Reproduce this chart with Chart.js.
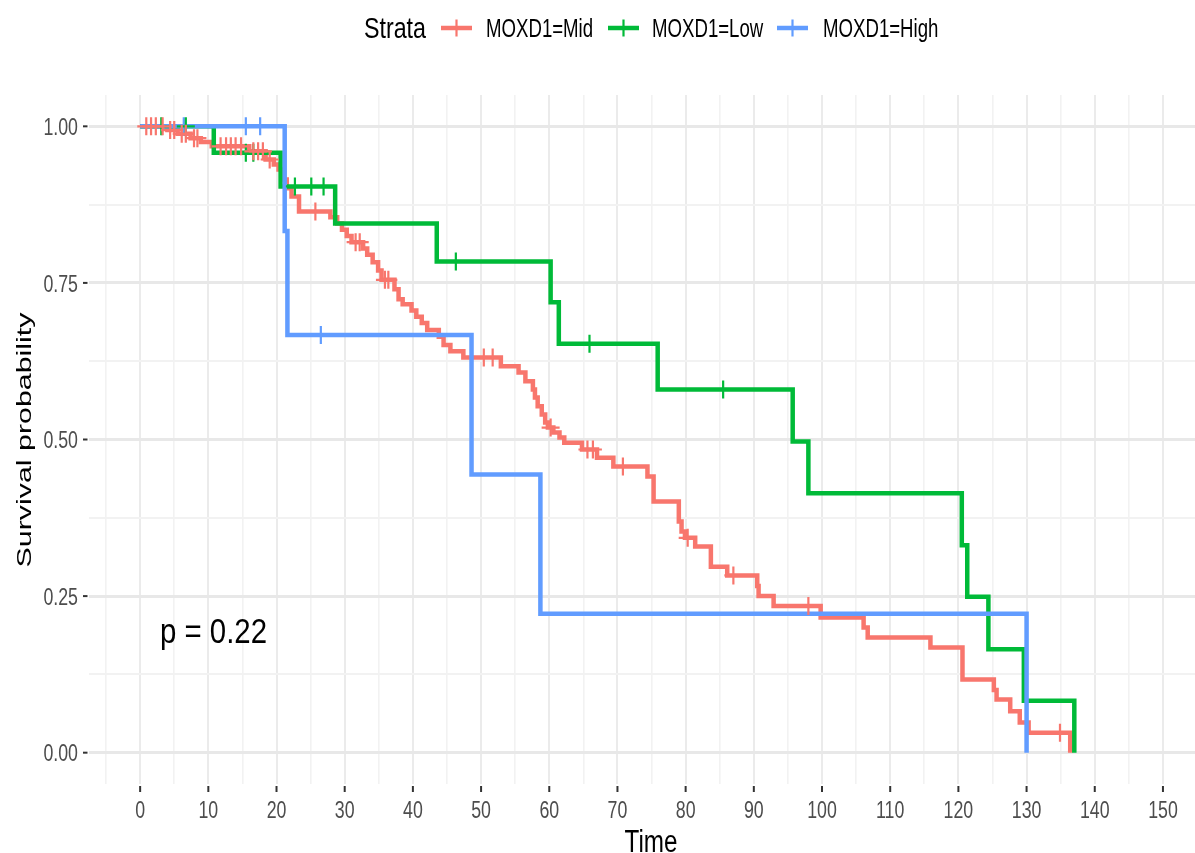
<!DOCTYPE html>
<html>
<head>
<meta charset="utf-8">
<script src="https://cdn.jsdelivr.net/npm/chart.js@4.4.1/dist/chart.umd.min.js"></script>
<style>
  html, body { margin: 0; padding: 0; background: #ffffff; }
  #wrap { width: 1195px; height: 853px; position: relative; }
</style>
</head>
<body>
<div id="wrap"><canvas id="kmChart"></canvas></div>
<script>
// Kaplan-Meier curves
const strata = ['MOXD1=Mid', 'MOXD1=Low', 'MOXD1=High'];
const strataColors = ['#F8766D', '#00BA38', '#619CFF'];

const midTime = [0, 4.0, 5.5, 7.4, 8.9, 10.5, 16.0, 18.4, 19.6, 20.3, 20.9, 21.5, 22.2, 23.3,
    27.9, 28.9, 29.6, 30.3, 31.0, 32.7, 33.3, 34.1, 34.9, 35.4, 37.3, 37.9, 38.5, 39.8, 40.5,
    41.3, 42.1, 43.8, 44.5, 45.5, 47.4, 52.9, 55.5, 56.5, 57.6, 57.9, 58.3, 58.9, 59.4, 59.8,
    60.6, 61.5, 62.2, 64.8, 67.0, 69.4, 74.4, 75.3, 79.0, 79.4, 79.9, 81.4, 83.7, 86.1, 90.5,
    90.7, 92.9, 99.8, 106.1, 106.7, 115.9, 120.6, 125.2, 125.6, 127.6, 129.0, 130.3, 136.4];
const midSurv = [1, 0.994, 0.988, 0.981, 0.975, 0.968, 0.960, 0.947, 0.939, 0.931, 0.915, 0.901, 0.888, 0.864,
    0.855, 0.845, 0.835, 0.825, 0.815, 0.805, 0.795, 0.783, 0.770, 0.755, 0.740, 0.724, 0.716, 0.706, 0.696,
    0.686, 0.675, 0.664, 0.651, 0.641, 0.631, 0.617, 0.607, 0.593, 0.580, 0.567, 0.553, 0.540, 0.527, 0.519,
    0.511, 0.503, 0.495, 0.484, 0.471, 0.457, 0.441, 0.401, 0.369, 0.353, 0.343, 0.329, 0.297, 0.283, 0.266,
    0.250, 0.234, 0.216, 0.200, 0.184, 0.168, 0.117, 0.100, 0.085, 0.066, 0.048, 0.032, 0];
const midCensorTime = [0.9, 1.6, 2.3, 3.3, 4.4, 5.0, 6.1, 6.7, 7.9, 8.4, 11.8, 12.6, 13.3, 14.0, 14.8,
    16.6, 17.3, 18.0, 19.0, 25.7, 31.6, 32.2, 35.9, 36.4, 50.4, 51.7, 60.2, 65.6, 66.4, 70.8, 80.3, 87.0, 98.0, 134.9];
const midCensorSurv = [1, 1, 1, 1, 0.994, 0.994, 0.988, 0.988, 0.981, 0.981, 0.968, 0.968, 0.968, 0.968, 0.968,
    0.960, 0.960, 0.960, 0.947, 0.864, 0.815, 0.815, 0.755, 0.755, 0.631, 0.631, 0.519, 0.484, 0.484, 0.457, 0.343, 0.283, 0.234, 0.032];

const lowTime = [0, 10.8, 20.6, 28.6, 43.5, 60.2, 61.4, 75.9, 95.7, 98.0, 120.5, 121.3, 124.4, 129.6, 137.0];
const lowSurv = [1, 0.958, 0.904, 0.845, 0.784, 0.719, 0.653, 0.580, 0.497, 0.414, 0.331, 0.249, 0.165, 0.083, 0];
const lowCensorTime = [3.1, 6.7, 15.5, 16.6, 22.7, 25.1, 26.9, 46.3, 65.9, 85.5];
const lowCensorSurv = [1, 1, 0.958, 0.958, 0.904, 0.904, 0.904, 0.784, 0.653, 0.580];

const highTime = [0, 21.2, 21.6, 48.6, 58.7, 130.0];
const highSurv = [1, 0.833, 0.667, 0.444, 0.222, 0];
const highCensorTime = [6.4, 15.5, 17.6, 26.5];
const highCensorSurv = [1, 1, 1, 0.667];

const xTicks = [0, 10, 20, 30, 40, 50, 60, 70, 80, 90, 100, 110, 120, 130, 140, 150];
const xTickLabels = ['0', '10', '20', '30', '40', '50', '60', '70', '80', '90', '100', '110', '120', '130', '140', '150'];
const yTicks = [0, 0.25, 0.5, 0.75, 1];
const yTickLabels = ['0.00', '0.25', '0.50', '0.75', '1.00'];
const pValueText = 'p = 0.22';

const FONT = '"Liberation Sans", Arial, sans-serif';

function toPoints(times, values) {
    return times.map((t, i) => ({ x: t, y: values[i] }));
}

function labelFor(value, ticks, labels) {
    const i = ticks.findIndex(v => Math.abs(v - value) < 1e-6);
    return i >= 0 ? labels[i] : '';
}

// text in the picture is horizontally squeezed, so draw it with an x scale
function drawText(ctx, text, x, y, size, sx, align, color) {
    ctx.save();
    ctx.font = size + 'px ' + FONT;
    ctx.fillStyle = color;
    ctx.textAlign = align;
    ctx.textBaseline = 'alphabetic';
    ctx.translate(x, y);
    ctx.scale(sx, 1);
    ctx.fillText(text, 0, 0);
    ctx.restore();
}

function fitScale(ctx, text, size, width) {
    ctx.save();
    ctx.font = size + 'px ' + FONT;
    const w = ctx.measureText(text).width;
    ctx.restore();
    return width / w;
}

const ggDecor = {
    id: 'ggDecor',
    afterDraw(chart) {
        const ctx = chart.ctx;
        const xs = chart.scales.x;
        const ys = chart.scales.y;
        const area = chart.chartArea;

        // y axis ticks and labels
        ys.ticks.forEach((tick, i) => {
            if (!tick.label) return;
            const py = ys.getPixelForTick(i);
            ctx.save();
            ctx.strokeStyle = '#333333';
            ctx.lineWidth = 2;
            ctx.beginPath();
            ctx.moveTo(83, py);
            ctx.lineTo(87.5, py);
            ctx.stroke();
            ctx.restore();
            drawText(ctx, tick.label, 78, py + 8.6, 24, 0.74, 'right', '#4d4d4d');
        });

        // x axis ticks and labels
        xs.ticks.forEach((tick, i) => {
            if (!tick.label) return;
            const px = xs.getPixelForTick(i);
            ctx.save();
            ctx.strokeStyle = '#333333';
            ctx.lineWidth = 2;
            ctx.beginPath();
            ctx.moveTo(px, area.bottom + 2);
            ctx.lineTo(px, area.bottom + 8);
            ctx.stroke();
            ctx.restore();
            drawText(ctx, tick.label, px, 818, 24, 0.74, 'center', '#4d4d4d');
        });

        // axis titles
        drawText(ctx, 'Time', 651, 852, 31, fitScale(ctx, 'Time', 31, 53), 'center', '#000000');
        ctx.save();
        ctx.font = '30px ' + FONT;
        ctx.fillStyle = '#000000';
        ctx.textAlign = 'center';
        ctx.textBaseline = 'alphabetic';
        ctx.translate(31, 440);
        ctx.rotate(-Math.PI / 2);
        ctx.scale(255 / ctx.measureText('Survival probability').width, 0.68);
        ctx.fillText('Survival probability', 0, 0);
        ctx.restore();

        // p value
        drawText(ctx, pValueText, 160, 643, 35, fitScale(ctx, pValueText, 35, 107), 'left', '#000000');

        // legend
        drawText(ctx, 'Strata', 364, 38, 29, fitScale(ctx, 'Strata', 29, 62), 'left', '#000000');
        const keyX = [456.5, 623.5, 792.5];
        const textX = [486, 652, 823];
        strata.forEach((name, i) => {
            ctx.save();
            ctx.strokeStyle = strataColors[i];
            ctx.lineWidth = 4.5;
            ctx.beginPath();
            ctx.moveTo(keyX[i] - 15.5, 28);
            ctx.lineTo(keyX[i] + 15.5, 28);
            ctx.stroke();
            ctx.lineWidth = 2.2;
            ctx.beginPath();
            ctx.moveTo(keyX[i], 19.5);
            ctx.lineTo(keyX[i], 36.5);
            ctx.stroke();
            ctx.restore();
            drawText(ctx, name, textX[i], 37, 25, 0.745, 'left', '#000000');
        });
    }
};

function isMajorX(v) { return Math.abs(v / 10 - Math.round(v / 10)) < 1e-6; }
function isMajorY(v) { return Math.abs(v / 0.25 - Math.round(v / 0.25)) < 1e-6; }

const stepLine = (label, times, values, color, order) => ({
    label: label,
    type: 'line',
    data: toPoints(times, values),
    borderColor: color,
    backgroundColor: color,
    borderWidth: 4.5,
    stepped: true,
    pointRadius: 0,
    fill: false,
    order: order
});

const censorMarks = (label, times, values, color) => ({
    label: label + ' censor',
    type: 'scatter',
    data: toPoints(times, values),
    borderColor: color,
    backgroundColor: color,
    pointStyle: 'cross',
    pointRadius: 9,
    pointBorderWidth: 2.2,
    borderWidth: 2.2,
    order: 0
});

new Chart(document.getElementById('kmChart'), {
    type: 'line',
    data: {
        datasets: [
            stepLine(strata[0], midTime, midSurv, strataColors[0], 3),
            stepLine(strata[1], lowTime, lowSurv, strataColors[1], 2),
            stepLine(strata[2], highTime, highSurv, strataColors[2], 1),
            censorMarks(strata[0], midCensorTime, midCensorSurv, strataColors[0]),
            censorMarks(strata[1], lowCensorTime, lowCensorSurv, strataColors[1]),
            censorMarks(strata[2], highCensorTime, highCensorSurv, strataColors[2])
        ]
    },
    options: {
        responsive: true,
        maintainAspectRatio: false,
        animation: false,
        layout: {
            autoPadding: false,
            padding: { top: 95, right: 0, bottom: 0, left: 0 }
        },
        plugins: {
            legend: { display: false },
            tooltip: { enabled: false }
        },
        scales: {
            x: {
                type: 'linear',
                min: -7.5,
                max: 154.7,
                border: { display: false },
                ticks: {
                    display: false,
                    stepSize: 5,
                    includeBounds: false,
                    callback: value => labelFor(value, xTicks, xTickLabels)
                },
                grid: {
                    drawTicks: false,
                    color: ctx => isMajorX(ctx.tick.value) ? '#ebebeb' : '#f2f2f2',
                    lineWidth: ctx => isMajorX(ctx.tick.value) ? 2 : 1.6
                },
                afterFit: scale => { scale.height = 69; }
            },
            y: {
                type: 'linear',
                min: -0.05,
                max: 1.05,
                border: { display: false },
                ticks: {
                    display: false,
                    stepSize: 0.125,
                    includeBounds: false,
                    callback: value => labelFor(value, yTicks, yTickLabels)
                },
                grid: {
                    drawTicks: false,
                    color: ctx => isMajorY(ctx.tick.value) ? '#e8e8e8' : '#f2f2f2',
                    lineWidth: ctx => isMajorY(ctx.tick.value) ? 3 : 2
                },
                afterFit: scale => { scale.width = 89; }
            }
        }
    },
    plugins: [ggDecor]
});
</script>
</body>
</html>
